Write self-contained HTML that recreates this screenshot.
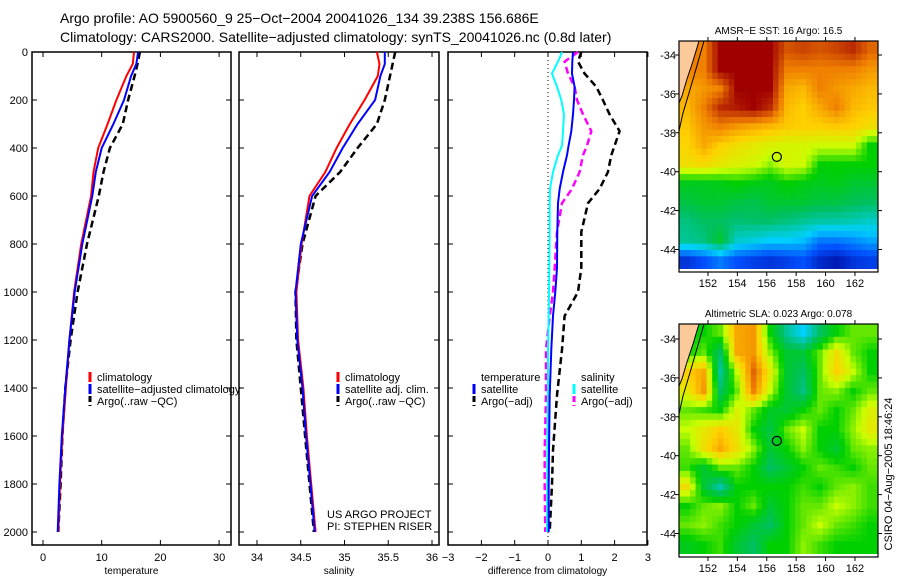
<!DOCTYPE html>
<html><head><meta charset="utf-8"><style>
html,body{margin:0;padding:0;background:#fff}
svg{display:block;font-family:"Liberation Sans",sans-serif}
</style></head><body>
<svg id="fig" width="900" height="580" viewBox="0 0 900 580" xmlns="http://www.w3.org/2000/svg">
<defs>
<clipPath id="clipTop"><rect x="679" y="41" width="199" height="228"/></clipPath>
<clipPath id="clipBot"><rect x="679" y="324" width="199" height="230"/></clipPath>
</defs>
<text x="60" y="23" font-size="14">Argo profile: AO 5900560_9 25−Oct−2004 20041026_134 39.238S 156.686E</text>
<text x="60" y="42" font-size="14">Climatology: CARS2000. Satellite−adjusted climatology: synTS_20041026.nc (0.8d later)</text>
<g id="plots"></g>
</svg>
<script>
// ---- data ----
const depths = [0,50,100,200,300,400,500,600,800,1000,1200,1400,1600,1800,2000];
const tempClim = [15.5,15.3,14.2,12.5,11.0,9.4,8.6,8.2,6.5,5.3,4.5,3.9,3.3,2.9,2.6];
const tempSat  = [16.2,15.9,15.0,13.8,12.0,10.0,9.0,8.4,6.7,5.4,4.5,3.8,3.2,2.8,2.5];
const tempArgo = [16.5,16.1,15.6,14.5,13.6,11.4,10.3,9.5,7.5,5.9,4.7,3.8,3.3,3.0,2.6];
const salClim = [35.37,35.40,35.38,35.23,35.06,34.91,34.78,34.60,34.51,34.45,34.47,34.53,34.57,34.62,34.67];
const salSat  = [35.46,35.46,35.41,35.35,35.15,34.98,34.83,34.63,34.50,34.44,34.46,34.52,34.56,34.61,34.66];
const salArgo = [35.58,35.55,35.52,35.46,35.37,35.15,34.95,34.67,34.52,34.44,34.45,34.50,34.55,34.60,34.65];
const diffDepths = [0,40,90,145,200,260,330,390,430,500,570,630,750,900,1000,1100,1240,1430,1660,1800,2000];
const dTempSat  = [0.75,0.73,0.72,0.8,0.78,0.75,0.7,0.62,0.57,0.45,0.35,0.3,0.28,0.27,0.22,0.15,0.1,0.05,0.03,0.02,0.02];
const dSalSat   = [0.42,0.3,0.12,0.27,0.4,0.48,0.45,0.42,0.3,0.15,0.06,0.05,0.05,0.04,0.03,0.02,0.0,0.0,-0.02,-0.02,-0.03];
const dTempArgo = [1.0,0.9,1.1,1.45,1.65,1.85,2.15,2.0,1.9,1.8,1.55,1.2,1.0,1.0,0.9,0.5,0.42,0.27,0.15,0.12,0.05];
const dSalArgo  = [0.9,0.5,0.6,0.8,0.87,1.05,1.3,1.17,1.05,0.95,0.72,0.42,0.27,0.2,0.15,0.05,-0.06,-0.06,-0.1,-0.1,-0.08];
const depthTicks = [0,200,400,600,800,1000,1200,1400,1600,1800,2000];
const tempTicks = [0,10,20,30];
const salTicks = [34,34.5,35,35.5,36];
const diffTicks = [-3,-2,-1,0,1,2,3];
const lonTicks = [152,154,156,158,160,162];
const latTicks = [-34,-36,-38,-40,-42,-44];
const argoLon = 156.686, argoLat = -39.238;
const sstGrid = [
[.85,.85,1,1,1,1,.9,.92,.9,.92,.95,.88],
[.85,.85,1,1,1,1,.85,.85,.85,.85,.85,.82],
[.8,.82,.85,1,1,1,.8,.78,.85,.82,.8,.78],
[.78,.85,.95,.97,1,.95,.78,.75,.8,.85,.78,.76],
[.76,.82,.85,.82,.8,.78,.76,.75,.75,.76,.75,.72],
[.74,.8,.75,.72,.7,.68,.67,.67,.66,.66,.66,.55],
[.72,.73,.7,.68,.67,.62,.67,.66,.55,.55,.55,.55],
[.52,.52,.53,.55,.53,.52,.55,.53,.52,.53,.5,.5],
[.48,.5,.5,.48,.47,.5,.5,.5,.48,.48,.46,.45],
[.42,.45,.45,.43,.44,.44,.42,.4,.38,.38,.37,.35],
[.4,.42,.5,.35,.33,.3,.3,.28,.2,.2,.22,.25],
[.1,.15,.2,.15,.12,.1,.12,.15,.08,.05,.1,.12]];
const slaGrid = [
[.55,.55,.6,.8,.82,.55,.4,.3,.45,.55,.6,.6],
[.55,.6,.45,.8,.82,.62,.5,.5,.6,.72,.6,.55],
[.75,.8,.4,.65,.88,.7,.5,.45,.6,.75,.65,.55],
[.7,.82,.45,.6,.85,.65,.5,.42,.6,.62,.55,.6],
[.6,.58,.55,.68,.6,.52,.5,.55,.6,.55,.6,.68],
[.65,.7,.75,.7,.55,.48,.6,.65,.55,.55,.62,.7],
[.6,.72,.8,.72,.62,.5,.55,.62,.55,.5,.6,.62],
[.58,.5,.6,.6,.55,.45,.5,.55,.6,.58,.55,.6],
[.72,.5,.38,.55,.55,.55,.55,.58,.55,.6,.62,.58],
[.55,.6,.62,.55,.6,.5,.55,.6,.6,.65,.62,.58],
[.6,.62,.58,.55,.5,.45,.55,.6,.65,.6,.58,.55],
[.52,.55,.58,.5,.45,.55,.55,.62,.58,.55,.55,.55]];

const NS='http://www.w3.org/2000/svg';
const root=document.getElementById('plots');
function mk(tag,attrs,parent,txt){const e=document.createElementNS(NS,tag);for(const k in attrs)e.setAttribute(k,attrs[k]);if(txt!==undefined)e.textContent=txt;(parent||root).appendChild(e);return e;}
const yD = d => 52 + d*0.24;
const PT=52, PB=545;

function panel(name,x0,x1,xs,ticks,fmt,xlabel,leftLabels){
  const g=mk('g',{});
  
  
  mk('rect',{x:x0,y:PT,width:x1-x0,height:PB-PT,fill:'none',stroke:'#000','stroke-width':1.5},g);
  depthTicks.forEach(d=>{
    mk('line',{x1:x0,x2:x0+5,y1:yD(d),y2:yD(d),stroke:'#000'},g);
    mk('line',{x1:x1-5,x2:x1,y1:yD(d),y2:yD(d),stroke:'#000'},g);
    if(leftLabels){const t=mk('text',{x:x0-4,y:yD(d)+4,'font-size':11,'text-anchor':'end'},g,String(d));
      }
  });
  ticks.forEach(v=>{
    const x=xs(v);
    mk('line',{x1:x,x2:x,y1:PT,y2:PT+5,stroke:'#000'},g);
    mk('line',{x1:x,x2:x,y1:PB-5,y2:PB,stroke:'#000'},g);
    const t=mk('text',{x:x,y:561,'font-size':11,'text-anchor':'middle'},g,fmt(v));
    
  });
  const t=mk('text',{x:(x0+x1)/2,y:574,'font-size':10,'text-anchor':'middle'},g,xlabel);
  
  return g;
}
function line(g,name,ds,vals,xs,color,w,dash){
  const pts=ds.map((d,i)=>xs(vals[i]).toFixed(1)+','+yD(d).toFixed(1)).join(' ');
  const p=mk('polyline',{points:pts,fill:'none',stroke:color,'stroke-width':w,'stroke-dasharray':dash||'none'},g);
  
  
}
function legend(g,x,y,color,label,dash){
  mk('line',{x1:x,x2:x,y1:y-9,y2:y+1,stroke:color,'stroke-width':3,'stroke-dasharray':dash?'6,3':'none'},g);
  const t=mk('text',{x:x+7,y:y,'font-size':11},g,label);
  
}
// panel 1
const xT = v => 43 + v*5.87;
let g1=panel('temperature-panel',32,231,xT,tempTicks,String,'temperature',true);
line(g1,'temp-argo-line',depths,tempArgo,xT,'#000',2.5,'7,4');
line(g1,'temp-climatology-line',depths,tempClim,xT,'#f00',2);
line(g1,'temp-satellite-line',depths,tempSat,xT,'#00f',2);
legend(g1,90,381,'#f00','climatology');
legend(g1,90,393,'#00f','satellite−adjusted climatology');
legend(g1,90,405,'#000','Argo(..raw −QC)',true);
// panel 2
const xS = v => 257 + (v-34)*87.5;
let g2=panel('salinity-panel',239,439,xS,salTicks,String,'salinity',false);
line(g2,'sal-argo-line',depths,salArgo,xS,'#000',2.5,'7,4');
line(g2,'sal-climatology-line',depths,salClim,xS,'#f00',2);
line(g2,'sal-satellite-line',depths,salSat,xS,'#00f',2);
legend(g2,338,381,'#f00','climatology');
legend(g2,338,393,'#00f','satellite adj. clim.');
legend(g2,338,405,'#000','Argo(..raw −QC)',true);
mk('text',{x:327,y:518,'font-size':11},g2,'US ARGO PROJECT');
mk('text',{x:327,y:530,'font-size':11},g2,'PI: STEPHEN RISER');
// panel 3
const xDf = v => 548 + v*33.3;
let g3=panel('difference-panel',448,647,xDf,diffTicks,v=>v<0?'−'+(-v):String(v),'difference from climatology',false);
mk('line',{x1:548,x2:548,y1:PT,y2:PB,stroke:'#000','stroke-dasharray':'1,3'},g3);
line(g3,'diff-temp-argo-line',diffDepths,dTempArgo,xDf,'#000',2.5,'7,4');
line(g3,'diff-sal-argo-line',diffDepths,dSalArgo,xDf,'#f0f',2.5,'7,4');
line(g3,'diff-sal-satellite-line',diffDepths,dSalSat,xDf,'#0ff',2);
line(g3,'diff-temp-satellite-line',diffDepths,dTempSat,xDf,'#00f',2);
mk('text',{x:481,y:381,'font-size':11},g3,'temperature');
legend(g3,474,393,'#00f','satellite');
legend(g3,474,405,'#000','Argo(−adj)',true);
mk('text',{x:581,y:381,'font-size':11},g3,'salinity');
legend(g3,574,393,'#0ff','satellite');
legend(g3,574,405,'#f0f','Argo(−adj)',true);

// ---- maps ----
const stops=[[0,[0,0,143]],[0.15,[0,80,255]],[0.3,[0,208,255]],[0.45,[0,192,96]],[0.55,[0,208,0]],[0.65,[200,255,0]],[0.75,[255,208,0]],[0.85,[240,128,0]],[1,[160,0,0]]];
function cmap(v){for(let i=1;i<stops.length;i++){if(v<=stops[i][0]){const a=stops[i-1],b=stops[i],t=(v-a[0])/(b[0]-a[0]);return 'rgb('+a[1].map((c,k)=>Math.round(c+(b[1][k]-c)*t)).join(',')+')';}}return 'rgb(160,0,0)';}
function sample(grid,fr,fc){
  const r=Math.min(Math.max(fr-0.5,0),11), c=Math.min(Math.max(fc-0.5,0),11);
  const r0=Math.floor(r), c0=Math.floor(c), r1=Math.min(r0+1,11), c1=Math.min(c0+1,11);
  const tr=r-r0, tc=c-c0;
  return (grid[r0][c0]*(1-tc)+grid[r0][c1]*tc)*(1-tr)+(grid[r1][c0]*(1-tc)+grid[r1][c1]*tc)*tr;
}
function map(name,top,bottom,grid,title,lat34y){
  const L=679,R=878;
  const g=mk('g',{});
  
  
  const lonX=lon=>L+(lon-150.03)*14.7;
  const latY=lat=>lat34y+(-34-lat)*19.45;
  const N=36, cw=(R-L)/N, ch=(bottom-top)/N;
  const cg=mk('g',{'clip-path':'url(#'+(top<100?'clipTop':'clipBot')+')'},g);
  for(let r=0;r<N;r++)for(let c=0;c<N;c++){
    const v=sample(grid,(r+0.5)*12/N,(c+0.5)*12/N);
    const cell=mk('rect',{x:(L+c*cw).toFixed(2),y:(top+r*ch).toFixed(2),width:(cw+0.6).toFixed(2),height:(ch+0.6).toFixed(2),fill:cmap(v)},cg);
    
    
  }
  mk('polygon',{points:`${L},${top} ${L+20},${top} ${L+14},${top+20} ${L+8},${top+38} ${L+3},${top+55} ${L},${top+62}`,fill:'#fcc99b',stroke:'#000','stroke-width':1},g);
  mk('polyline',{points:`${L+25},${top} ${L+17},${top+28} ${L+10},${top+52} ${L+4},${top+72} ${L},${top+90}`,fill:'none',stroke:'#000','stroke-width':1},g);
  mk('rect',{x:L,y:top,width:R-L,height:bottom-top+3,fill:'none',stroke:'#000','stroke-width':1.2},g);
  lonTicks.forEach(lon=>{const x=lonX(lon);
    mk('line',{x1:x,x2:x,y1:top-4,y2:top,stroke:'#000'},g);
    mk('line',{x1:x,x2:x,y1:bottom+3,y2:bottom+7,stroke:'#000'},g);
    const t=mk('text',{x:x,y:bottom+18,'font-size':11,'text-anchor':'middle'},g,String(lon));
    });
  latTicks.forEach(lat=>{const y=latY(lat);
    mk('line',{x1:L-4,x2:L,y1:y,y2:y,stroke:'#000'},g);
    mk('line',{x1:R,x2:R+4,y1:y,y2:y,stroke:'#000'},g);
    const t=mk('text',{x:L-3,y:y+4,'font-size':11,'text-anchor':'end'},g,String(lat));
    });
  const c=mk('circle',{cx:lonX(argoLon),cy:latY(argoLat),r:4.5,fill:'none',stroke:'#000','stroke-width':1.2},g);
  
  const t=mk('text',{x:(L+R)/2,y:top-7,'font-size':10,'text-anchor':'middle'},g,title);
  
}
map('sst-map',41,269,sstGrid,'AMSR−E SST: 16 Argo: 16.5',55);
map('sla-map',324,554,slaGrid,'Altimetric SLA: 0.023 Argo: 0.078',339);
const ct=mk('text',{x:0,y:0,'font-size':11,'text-anchor':'middle',transform:'translate(892,474) rotate(-90)'},root,'CSIRO 04−Aug−2005 18:46:24');


</script>
</body></html>
